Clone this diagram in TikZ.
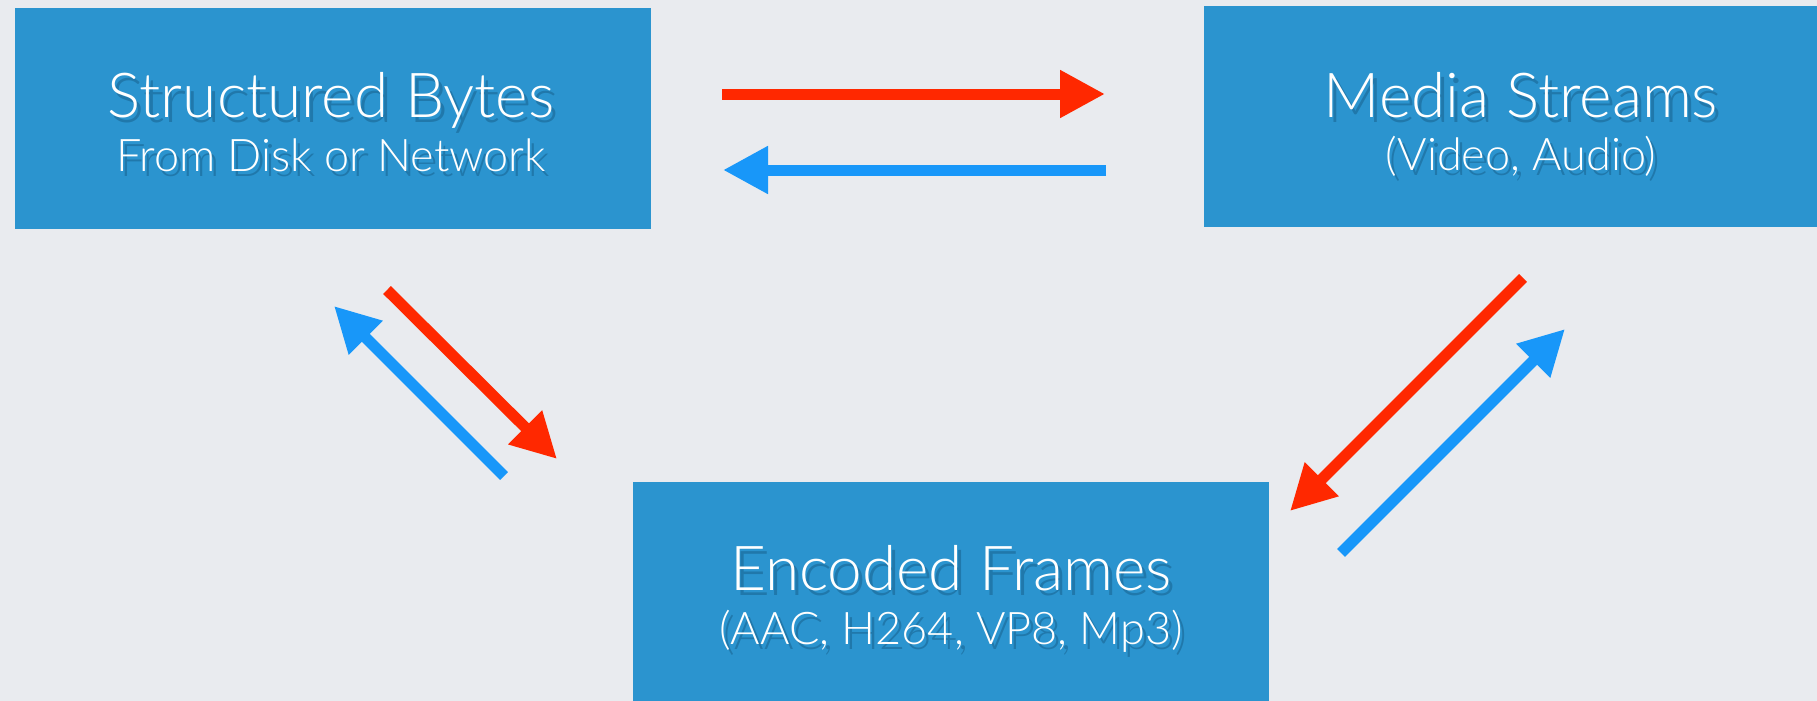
\documentclass[tikz,border=0pt]{standalone}
\usepackage{fontspec}
\setmainfont{Lato}[UprightFont={* Light}]
\usetikzlibrary{arrows.meta}

\definecolor{canvas}{HTML}{E9EBEF}
\definecolor{boxblue}{HTML}{2B94CF}
\definecolor{fwdred}{HTML}{FF2800}
\definecolor{backblue}{HTML}{1897F9}
\definecolor{textshade}{HTML}{0C4468}

\begin{document}
\begin{tikzpicture}[x=1pt,y=-1pt,
  stage/.style={fill=boxblue, draw=none, minimum width=636pt, minimum height=221pt,
                inner sep=0pt, anchor=north west},
  headline/.style={text=white, inner sep=0pt, anchor=base,
                   font=\fontsize{62}{62}\selectfont},
  subline/.style={text=white, inner sep=0pt, anchor=base,
                  font=\fontsize{45}{45}\selectfont},
  shadowed/.style={text=textshade, opacity=0.35},
  flow/.style={line width=11pt, -{Triangle[length=45pt,width=45pt]}},
  fwd/.style={flow, draw=fwdred},
  back/.style={flow, draw=backblue}]

  % canvas
  \fill[canvas] (0,0) rectangle (1817,701);
  \useasboundingbox (0,0) rectangle (1817,701);

  % stages
  \node[stage] (bytes)  at (15,8)   {};
  \node[stage] (media)  at (1204,6) {};
  \node[stage] (frames) at (633,482) {};

  % labels with a soft drop shadow
  \foreach \nm/\x/\ya/\yb/\ta/\tb in {
      bytes/331/117/171/Structured Bytes/From Disk or Network,
      media/1521/117/170/Media Streams/(Video{,} Audio),
      frames/951/590/644/Encoded Frames/(AAC{,} H264{,} VP8{,} Mp3)} {
    \node[headline, shadowed] at (\x+4,\ya+5) {\ta};
    \node[subline, shadowed]  at (\x+4,\yb+5) {\tb};
    \node[headline] (\nm-title) at (\x,\ya) {\ta};
    \node[subline]  (\nm-sub)   at (\x,\yb) {\tb};
  }

  % arrow end points
  \coordinate (bm-a) at (722,94);   \coordinate (bm-b) at (1105,94);
  \coordinate (mb-a) at (1106,170); \coordinate (mb-b) at (723,170);
  \coordinate (bf-a) at (387,290);  \coordinate (bf-b) at (557,459);
  \coordinate (fb-a) at (504,476);  \coordinate (fb-b) at (334,306);
  \coordinate (mf-a) at (1523,278); \coordinate (mf-b) at (1290,511);
  \coordinate (fm-a) at (1341,553); \coordinate (fm-b) at (1565,329);

  % conversions
  \draw[fwd]  (bm-a) -- (bm-b);
  \draw[back] (mb-a) -- (mb-b);
  \draw[fwd]  (bf-a) -- (bf-b);
  \draw[back] (fb-a) -- (fb-b);
  \draw[fwd]  (mf-a) -- (mf-b);
  \draw[back] (fm-a) -- (fm-b);
\end{tikzpicture}
\end{document}
